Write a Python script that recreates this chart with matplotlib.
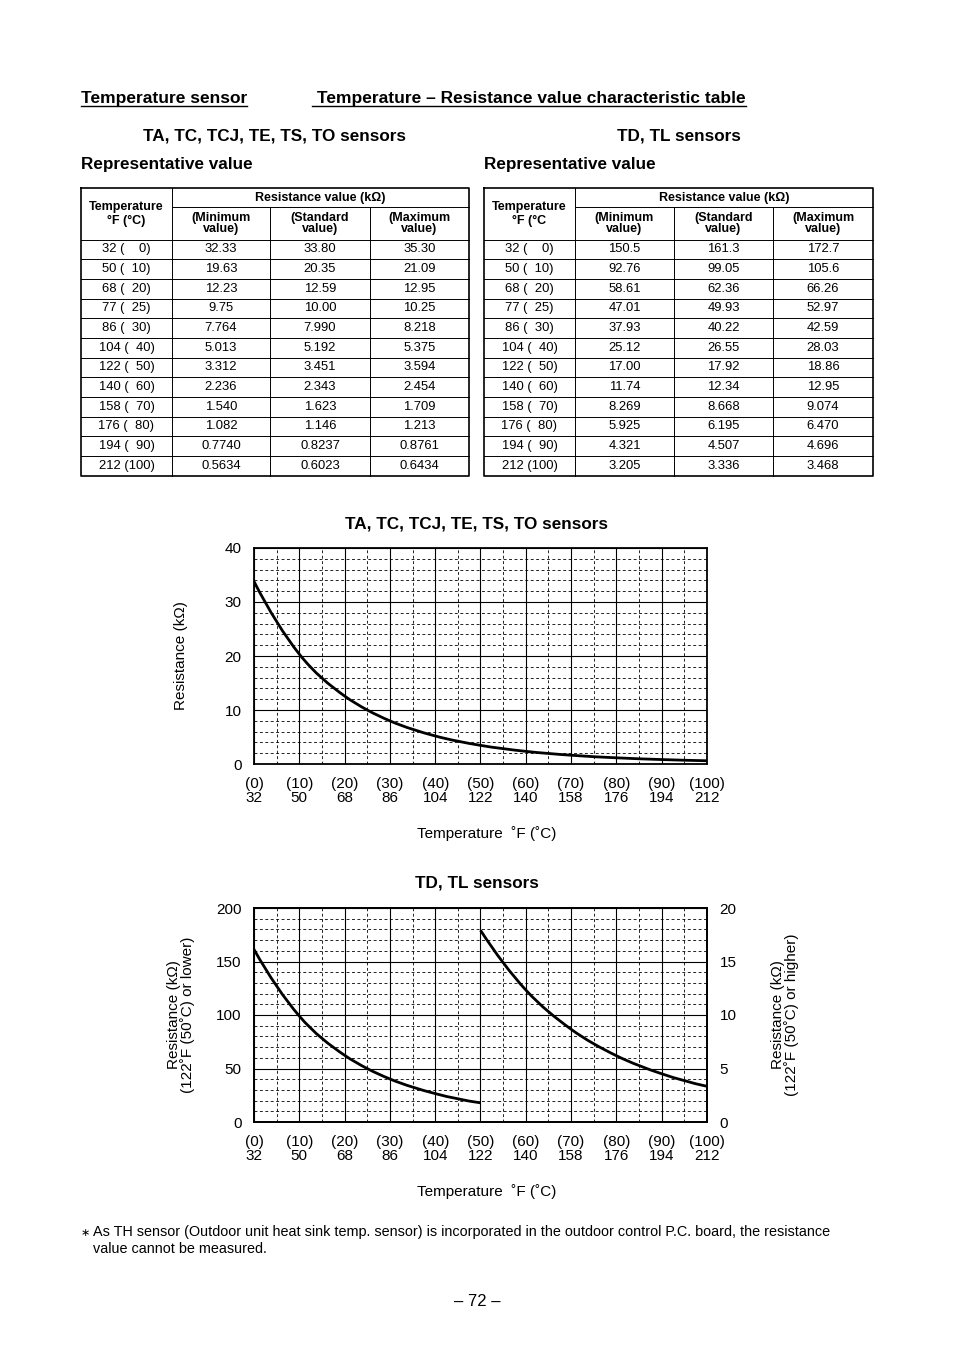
import matplotlib
matplotlib.use('Agg')
import matplotlib.pyplot as plt
from matplotlib.path import Path
from matplotlib.patches import PathPatch
import numpy as np

plt.rcParams['font.family'] = ['Liberation Sans', 'DejaVu Sans']

# table data
temps_c = [0, 10, 20, 25, 30, 40, 50, 60, 70, 80, 90, 100]
temp_labels = ['32 (    0)', '50 (  10)', '68 (  20)', '77 (  25)', '86 (  30)', '104 (  40)',
               '122 (  50)', '140 (  60)', '158 (  70)', '176 (  80)', '194 (  90)', '212 (100)']

ta_min = ['32.33', '19.63', '12.23', '9.75', '7.764', '5.013', '3.312', '2.236', '1.540', '1.082', '0.7740', '0.5634']
ta_std = ['33.80', '20.35', '12.59', '10.00', '7.990', '5.192', '3.451', '2.343', '1.623', '1.146', '0.8237', '0.6023']
ta_max = ['35.30', '21.09', '12.95', '10.25', '8.218', '5.375', '3.594', '2.454', '1.709', '1.213', '0.8761', '0.6434']

td_min = ['150.5', '92.76', '58.61', '47.01', '37.93', '25.12', '17.00', '11.74', '8.269', '5.925', '4.321', '3.205']
td_std = ['161.3', '99.05', '62.36', '49.93', '40.22', '26.55', '17.92', '12.34', '8.668', '6.195', '4.507', '3.336']
td_max = ['172.7', '105.6', '66.26', '52.97', '42.59', '28.03', '18.86', '12.95', '9.074', '6.470', '4.696', '3.468']

xtick_c = [0, 10, 20, 30, 40, 50, 60, 70, 80, 90, 100]
xtick_labels = ['(0)\n32', '(10)\n50', '(20)\n68', '(30)\n86', '(40)\n104', '(50)\n122',
                '(60)\n140', '(70)\n158', '(80)\n176', '(90)\n194', '(100)\n212']

fig = plt.figure(figsize=(9.54, 13.48), dpi=100)
fig.patch.set_facecolor('white')

# page axes in pixel coords
bg = fig.add_axes([0, 0, 1, 1])
bg.set_xlim(0, 954)
bg.set_ylim(1348, 0)
bg.axis('off')

# page titles (underlined)
t1 = bg.text(81, 98, 'Temperature sensor', fontsize=12.5, fontweight='bold', va='center', ha='left')
t2 = bg.text(312, 98, ' Temperature – Resistance value characteristic table', fontsize=12.5,
             fontweight='bold', va='center', ha='left')
fig.canvas.draw()
inv = bg.transData.inverted()
for t in (t1, t2):
    bb = t.get_window_extent()
    (xa, _), (xb, _) = inv.transform([[bb.x0, bb.y0], [bb.x1, bb.y0]])
    bg.plot([xa, xb], [106, 106], color='black', lw=1.0)

bg.text(275, 136, 'TA, TC, TCJ, TE, TS, TO sensors', fontsize=12.3, fontweight='bold', ha='center', va='center')
bg.text(617, 136, 'TD, TL sensors', fontsize=12.3, fontweight='bold', ha='left', va='center')
bg.text(81, 165, 'Representative value', fontsize=12.3, fontweight='bold', ha='left', va='center')
bg.text(484, 165, 'Representative value', fontsize=12.3, fontweight='bold', ha='left', va='center')


def draw_table(cols, temp_head, mins, stds, maxs):
    top, split, head_bot, bot = 188, 207, 239.5, 475.5
    row_h = (bot - head_bot) / len(temp_labels)
    x0, x1 = cols[0], cols[-1]
    bg.plot([x0, x1, x1, x0, x0], [top, top, bot, bot, top], color='black', lw=1.2)
    bg.plot([cols[1], cols[1]], [top, bot], color='black', lw=0.7)
    for c in cols[2:-1]:
        bg.plot([c, c], [split, bot], color='black', lw=0.7)
    bg.plot([cols[1], x1], [split, split], color='black', lw=0.7)
    for i in range(len(temp_labels)):
        y = head_bot + i * row_h
        bg.plot([x0, x1], [y, y], color='black', lw=0.7)
    # header
    bg.text((cols[0] + cols[1]) / 2, 214, temp_head, fontsize=9, fontweight='bold',
            ha='center', va='center', linespacing=1.15)
    bg.text((cols[1] + cols[-1]) / 2, 197.5, 'Resistance value (kΩ)', fontsize=9,
            fontweight='bold', ha='center', va='center')
    for j, h in enumerate(['(Minimum\nvalue)', '(Standard\nvalue)', '(Maximum\nvalue)']):
        bg.text((cols[j + 1] + cols[j + 2]) / 2, 223.5, h, fontsize=9, fontweight='bold',
                ha='center', va='center', linespacing=0.95)
    for i in range(len(temp_labels)):
        y = head_bot + (i + 0.5) * row_h
        bg.text((cols[0] + cols[1]) / 2, y, temp_labels[i], fontsize=9.4, ha='center', va='center')
        for j, vals in enumerate([mins, stds, maxs]):
            bg.text((cols[j + 1] + cols[j + 2]) / 2, y, vals[i], fontsize=9.4, ha='center', va='center')


draw_table([81, 172, 270, 370, 469], 'Temperature\n°F (°C)', ta_min, ta_std, ta_max)
draw_table([484, 575, 674, 773, 873], 'Temperature\n°F (°C', td_min, td_std, td_max)


def smooth_curve(ax, xs, ys):
    # smooth Bezier path through the table points (hermite tangents)
    xs = np.asarray(xs, float)
    ys = np.asarray(ys, float)
    n = len(xs)
    m = np.zeros(n)
    for i in range(n):
        if i == 0:
            m[i] = (ys[1] - ys[0]) / (xs[1] - xs[0])
            m[i] = 1.5 * m[i] - 0.5 * (ys[2] - ys[1]) / (xs[2] - xs[1])
        elif i == n - 1:
            m[i] = (ys[-1] - ys[-2]) / (xs[-1] - xs[-2])
            m[i] = 1.5 * m[i] - 0.5 * (ys[-2] - ys[-3]) / (xs[-2] - xs[-3])
        else:
            h0, h1 = xs[i] - xs[i - 1], xs[i + 1] - xs[i]
            d0 = (ys[i] - ys[i - 1]) / h0
            d1 = (ys[i + 1] - ys[i]) / h1
            m[i] = (h1 * d0 + h0 * d1) / (h0 + h1)
    verts = [(xs[0], ys[0])]
    codes = [Path.MOVETO]
    for i in range(n - 1):
        h = xs[i + 1] - xs[i]
        verts += [(xs[i] + h / 3, ys[i] + m[i] * h / 3),
                  (xs[i + 1] - h / 3, ys[i + 1] - m[i + 1] * h / 3),
                  (xs[i + 1], ys[i + 1])]
        codes += [Path.CURVE4] * 3
    ax.add_patch(PathPatch(Path(verts, codes), facecolor='none', edgecolor='black', lw=2.0,
                           capstyle='butt', clip_on=True))


def style_grid(ax, ymax, ymajor, yminor):
    ax.set_xlim(0, 100)
    ax.set_ylim(0, ymax)
    ax.set_xticks(xtick_c)
    ax.set_xticklabels(xtick_labels, fontsize=11, linespacing=0.95)
    ax.set_xticks(np.arange(5, 100, 10), minor=True)
    ax.set_yticks(np.arange(0, ymax + 1, ymajor))
    ax.set_yticks([v for v in np.arange(0, ymax, yminor) if v % ymajor != 0], minor=True)
    ax.tick_params(which='both', length=0)
    ax.tick_params(axis='x', pad=9.5)
    ax.tick_params(axis='y', labelsize=11, pad=9)
    ax.grid(which='major', color='black', lw=0.8, linestyle='-')
    ax.grid(which='minor', color='black', lw=0.6, linestyle=(0, (3.5, 3)))
    ax.set_axisbelow(True)
    for s in ax.spines.values():
        s.set_linewidth(1.3)


def place_ylabel(ax, x_px, left, w):
    ax.yaxis.label.set_va('center')
    ax.yaxis.set_label_coords((x_px - left) / w, 0.5)


def place_xlabel(ax, y_px, bottom, h):
    ax.xaxis.label.set_va('center')
    ax.xaxis.set_label_coords((487 - 254) / 453, (bottom - y_px) / h)


# chart 1
ax1 = fig.add_axes([254 / 954, (1348 - 764) / 1348, 453 / 954, 216 / 1348])
style_grid(ax1, 40, 10, 2)
smooth_curve(ax1, temps_c, [float(v) for v in ta_std])
ax1.set_ylabel('Resistance (kΩ)', fontsize=11)
place_ylabel(ax1, 181, 254, 453)
ax1.set_xlabel('Temperature  ˚F (˚C)', fontsize=11)
place_xlabel(ax1, 834, 764, 216)
bg.text(477, 524, 'TA, TC, TCJ, TE, TS, TO sensors', fontsize=12.3, fontweight='bold', ha='center', va='center')

# chart 2
ax2 = fig.add_axes([254 / 954, (1348 - 1122) / 1348, 453 / 954, 214 / 1348])
style_grid(ax2, 200, 50, 10)
smooth_curve(ax2, temps_c[:7], [float(v) for v in td_std[:7]])
ax2.set_ylabel('Resistance (kΩ)\n(122˚F (50˚C) or lower)', fontsize=11, linespacing=1.0)
place_ylabel(ax2, 181, 254, 453)
ax2.set_xlabel('Temperature  ˚F (˚C)', fontsize=11)
place_xlabel(ax2, 1192, 1122, 214)

ax2r = ax2.twinx()
ax2r.set_ylim(0, 20)
ax2r.set_yticks([0, 5, 10, 15, 20])
ax2r.tick_params(length=0, labelsize=11, pad=9)
smooth_curve(ax2r, temps_c[6:], [float(v) for v in td_std[6:]])
ax2r.set_ylabel('Resistance (kΩ)\n(122˚F (50˚C) or higher)', fontsize=11, linespacing=1.0)
place_ylabel(ax2r, 785, 254, 453)
for s in ax2r.spines.values():
    s.set_linewidth(1.3)
bg.text(477, 883, 'TD, TL sensors', fontsize=12.3, fontweight='bold', ha='center', va='center')

# footnote
bg.text(81, 1233, '∗', fontsize=8, ha='left', va='center')
bg.text(93, 1232, 'As TH sensor (Outdoor unit heat sink temp. sensor) is incorporated in the outdoor control P.C. board, the resistance',
        fontsize=10.4, ha='left', va='center')
bg.text(93, 1249, 'value cannot be measured.', fontsize=10.4, ha='left', va='center')
bg.text(477, 1301, '– 72 –', fontsize=12, ha='center', va='center')

fig.savefig('out.png', dpi=100, facecolor='white')
